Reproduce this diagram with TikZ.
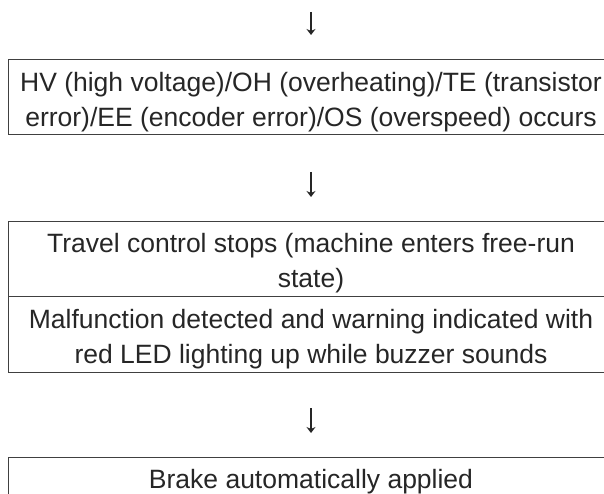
\documentclass[tikz,border=0pt]{standalone}
\usepackage{fontspec}
\setmainfont{Liberation Sans}
\usetikzlibrary{arrows.meta}
\begin{document}
\begin{tikzpicture}[x=1pt,y=-1pt,
  stepbox/.style={draw=black!75, line width=1pt, minimum width=606pt, inner sep=0pt},
  steptext/.style={inner sep=0pt, align=center, text=black!85,
    font=\fontsize{26.5}{35}\selectfont, yshift=-5pt},
  downarrow/.style={draw=black!85, line width=1.1pt,
    -{Stealth[length=6pt,width=9pt,inset=2pt]}}]
\useasboundingbox (0,0) rectangle (604,494);
\clip (0,0) rectangle (604,494);
\coordinate (a1t) at (311,12);
\coordinate (a1b) at (311,35);
\node[stepbox, minimum height=75pt,
  label={[steptext]center:{HV (high voltage)/OH (overheating)/TE (transistor\\error)/EE (encoder error)/OS (overspeed) occurs}}]
  (b1) at (311,97.5) {};
\coordinate (a2t) at (311,172);
\coordinate (a2b) at (311,197);
\node[stepbox, minimum height=75pt,
  label={[steptext]center:{Travel control stops (machine enters free-run\\state)}}]
  (b2) at (311,258.5) {};
\node[stepbox, minimum height=76pt,
  label={[steptext]center:{Malfunction detected and warning indicated with\\red LED lighting up while buzzer sounds}}]
  (b3) at (311,334) {};
\coordinate (a3t) at (311,408);
\coordinate (a3b) at (311,433);
\node[stepbox, minimum height=40pt,
  label={[steptext]center:{Brake automatically applied}}]
  (b4) at (311,477) {};
\draw[downarrow] (a1t) -- (a1b);
\draw[downarrow] (a2t) -- (a2b);
\draw[downarrow] (a3t) -- (a3b);
\end{tikzpicture}
\end{document}
